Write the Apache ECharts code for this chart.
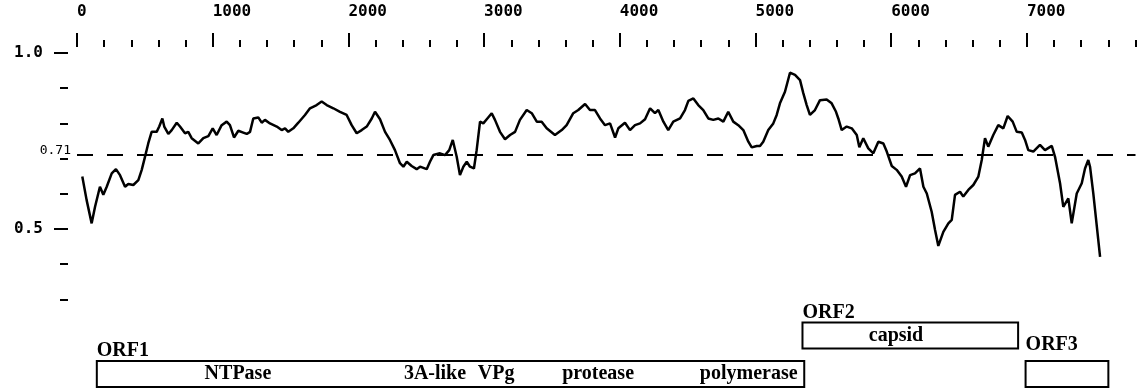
<!DOCTYPE html>
<html><head><meta charset="utf-8">
<script src="https://cdn.jsdelivr.net/npm/echarts@6/dist/echarts.min.js"></script>
<style>html,body{margin:0;padding:0;background:#fff}#c{width:1144px;height:391px}</style>
</head><body><div id="c"></div>
<script>
// ---- data ----
const positions = [39,71,108,133,169,194,219,256,287,317,354,378,415,452,477,501,525,550,587,606,629,643,673,698,735,759,796,820,845,894,931,968,1000,1029,1066,1103,1127,1157,1189,1225,
1251,1275,1299,1336,1361,1385,1422,1472,1508,1533,1557,1594,1631,1680,1717,1766,1803,1840,1889,1938,1987,2024,2061,2098,2135,2172,2196,2233,2270,2306,2343,2380,2405,2430,2466,2503,
2528,2577,2601,2626,2675,2712,2743,2769,2798,2822,2847,2872,2896,2925,2945,2970,2994,3024,3056,3080,3117,3154,3191,3228,3264,3314,3351,3388,3424,3461,3522,3572,3608,3657,3694,3744,
3780,3817,3854,3891,3928,3965,3989,4038,4075,4112,4149,4186,4223,4259,4284,4321,4357,4394,4444,4480,4505,4542,4578,4615,4652,4689,4726,4763,4799,4836,4873,4910,4947,4972,
5009,5033,5057,5094,5131,5156,5180,5217,5254,5291,5328,5352,5377,5401,5438,5475,5524,5561,5593,5610,5635,5672,5709,5746,5765,5794,5831,5868,5905,5942,5967,6004,6040,6077,6109,6139,6175,6212,
6237,6262,6298,6323,6347,6384,6421,6446,6470,6507,6531,6568,6605,6642,6667,6691,6715,6752,6789,6826,6858,6895,6925,6962,6986,7010,7047,7096,7133,7183,7207,7244,7268,7305,7330,7367,7404,7428,7452,7465,7489,7539];
const scores = [0.649,0.582,0.516,0.563,0.620,0.597,0.620,0.658,0.670,0.653,0.620,0.628,0.625,0.639,0.668,0.705,0.743,0.776,0.776,0.791,0.814,0.791,0.770,0.781,0.802,0.791,0.772,0.776,0.758,0.743,0.758,0.764,0.786,0.767,0.795,0.805,0.795,0.760,0.779,0.774,
0.770,0.776,0.814,0.817,0.802,0.810,0.800,0.791,0.781,0.786,0.776,0.786,0.802,0.824,0.843,0.852,0.862,0.852,0.843,0.833,0.824,0.795,0.772,0.781,0.791,0.814,0.833,0.812,0.776,0.753,0.724,0.687,0.677,0.691,0.679,0.670,
0.677,0.670,0.691,0.710,0.715,0.710,0.724,0.753,0.705,0.653,0.677,0.691,0.677,0.672,0.724,0.805,0.800,0.814,0.829,0.810,0.776,0.755,0.767,0.776,0.810,0.838,0.829,0.805,0.805,0.786,0.767,0.781,0.795,0.829,0.838,0.855,
0.838,0.838,0.814,0.795,0.800,0.760,0.786,0.802,0.781,0.795,0.800,0.812,0.843,0.829,0.838,0.805,0.781,0.805,0.814,0.838,0.864,0.871,0.852,0.838,0.814,0.810,0.814,0.805,0.833,0.805,0.795,0.781,0.748,0.732,
0.736,0.736,0.748,0.781,0.800,0.824,0.857,0.890,0.944,0.938,0.923,0.886,0.852,0.824,0.838,0.866,0.868,0.857,0.833,0.814,0.781,0.791,0.786,0.767,0.732,0.758,0.729,0.715,0.748,0.743,0.720,0.679,0.668,0.649,0.620,0.653,0.658,0.672,
0.620,0.601,0.549,0.497,0.452,0.492,0.516,0.526,0.597,0.606,0.592,0.611,0.625,0.649,0.696,0.758,0.734,0.767,0.795,0.786,0.821,0.805,0.776,0.774,0.753,0.724,0.720,0.739,0.724,0.736,0.705,0.630,0.563,0.587,0.516,0.601,0.630,0.672,0.696,0.677,0.601,0.421];
const threshold = 0.71;
const xMajorTicks = [0,1000,2000,3000,4000,5000,6000,7000];
const xMinorTicks = [0,200,400,600,800,1000,1200,1400,1600,1800,2000,2200,2400,2600,2800,3000,3200,3400,3600,3800,4000,4200,4400,4600,4800,5000,5200,5400,5600,5800,6000,6200,6400,6600,6800,7000,7200,7400,7600,7800];
const yTicks = [0.3,0.4,0.5,0.6,0.7,0.8,0.9,1.0];
const yLabelTicks = [0.5,1.0];
const orfNames = ['ORF1','ORF2','ORF3'];
const orfStarts = [146,5346,6990];
const orfEnds = [5359,6935,7600];
const orfTracks = [0,1,0];
const domainNames = ['NTPase','3A-like','VPg','protease','polymerase','capsid'];
const domainCenters = [1186,2638,3088,3840,4950,6035];
const domainTracks = [0,0,0,0,0,1];

// ---- chart ----
const chart = echarts.init(document.getElementById('c'), null, {renderer:'canvas'});
const monoBold = {fontFamily:'DejaVu Sans Mono', fontWeight:'bold', fontSize:16, color:'#000'};
const serifBold = '"Liberation Serif", serif';
const X0 = 0, X1 = 7800;
const tickStyle = {color:'#000', width:2};
const orfLabelLift = {ORF1:0, ORF2:0, ORF3:6}; // style: extra gap above box (px)

chart.setOption({
  animation:false,
  backgroundColor:'#fff',
  grid:[
    {left:77, top:53, width:1058.5, height:246.4},
    {left:77, top:300, width:1058.5, height:91}
  ],
  xAxis:[
    {gridIndex:0, type:'value', min:X0, max:X1, position:'top', offset:6,
     axisLine:{show:false, onZero:false}, splitLine:{show:false},
     axisTick:{show:true, customValues:xMinorTicks, length:7, lineStyle:tickStyle},
     axisLabel:{show:false}},
    {gridIndex:0, type:'value', min:X0, max:X1, position:'top', offset:6,
     axisLine:{show:false, onZero:false}, splitLine:{show:false},
     axisTick:{show:true, customValues:xMajorTicks, length:14, lineStyle:tickStyle},
     axisLabel:Object.assign({show:true, customValues:xMajorTicks, align:'left', margin:27,
       formatter:v=>String(v)}, monoBold)},
    {gridIndex:1, type:'value', min:X0, max:X1, show:false}
  ],
  yAxis:[
    {gridIndex:0, type:'value', min:0.3, max:1.0, position:'left', offset:9,
     axisLine:{show:false, onZero:false}, splitLine:{show:false},
     axisTick:{show:true, customValues:yTicks, length:8, lineStyle:tickStyle},
     axisLabel:{show:false}},
    {gridIndex:0, type:'value', min:0.3, max:1.0, position:'left', offset:9,
     axisLine:{show:false, onZero:false}, splitLine:{show:false},
     axisTick:{show:true, customValues:yLabelTicks, length:14, lineStyle:tickStyle},
     axisLabel:Object.assign({show:true, customValues:yLabelTicks, margin:25,
       formatter:v=>v.toFixed(1)}, monoBold)},
    {gridIndex:1, type:'value', min:-0.44, max:1.92, show:false}
  ],
  series:[
    {type:'line', xAxisIndex:0, yAxisIndex:0, showSymbol:false, symbol:'none',
     data:positions.map((p,i)=>[p,scores[i]]),
     lineStyle:{color:'#000', width:2.5}, z:3,
     markLine:{silent:true, symbol:'none', animation:false,
       data:[{yAxis:threshold}],
       lineStyle:{color:'#000', width:2, type:[16,14]},
       label:{show:true, position:'start', distance:6, offset:[0,-4], formatter:p=>p.value.toFixed(2),
         fontFamily:'DejaVu Sans Mono', fontSize:13, color:'#000'}}},
    {type:'custom', xAxisIndex:2, yAxisIndex:2, z:2,
     data:orfNames.map((n,i)=>[orfStarts[i], orfEnds[i], orfTracks[i]]),
     renderItem:(params, api)=>{
       const s = api.coord([api.value(0), api.value(2)]);
       const e = api.coord([api.value(1), api.value(2)]);
       const name = orfNames[params.dataIndex];
       return {type:'group', children:[
         {type:'rect', shape:{x:s[0], y:s[1]-13, width:e[0]-s[0], height:26},
          style:{fill:'#fff', stroke:'#000', lineWidth:2}},
         {type:'text', x:s[0], y:s[1]-13-(orfLabelLift[name]||0), style:{text:name,
          fontFamily:serifBold, fontWeight:'bold', fontSize:20, fill:'#000',
          align:'left', verticalAlign:'bottom'}}
       ]};
     }},
    {type:'custom', xAxisIndex:2, yAxisIndex:2, z:4,
     data:domainCenters.map((c,i)=>[c, domainTracks[i]]),
     renderItem:(params, api)=>{
       const p = api.coord([api.value(0), api.value(1)]);
       return {type:'text', x:p[0], y:p[1], style:{text:domainNames[params.dataIndex],
         fontFamily:serifBold, fontWeight:'bold', fontSize:20, fill:'#000',
         align:'center', verticalAlign:'middle'}};
     }}
  ]
});
</script>
</body></html>
